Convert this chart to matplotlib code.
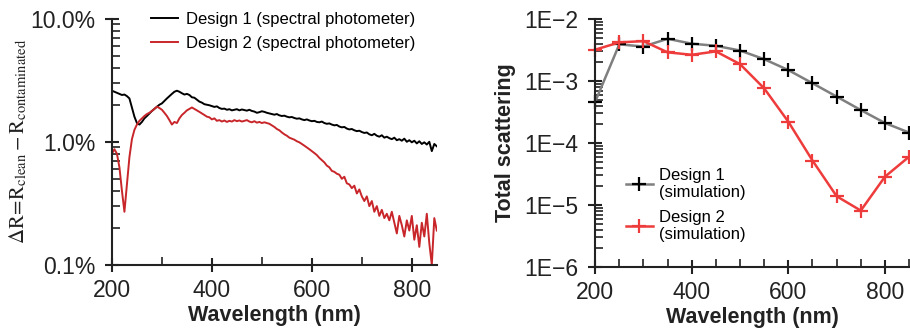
import matplotlib
matplotlib.use("Agg")
import matplotlib.pyplot as plt
from matplotlib.ticker import FixedLocator, MultipleLocator, LogLocator, NullFormatter
import numpy as np

plt.rcParams['font.family'] = ['Liberation Sans', 'DejaVu Sans']
plt.rcParams['mathtext.fontset'] = 'stix'

# measured spectra (percent), 5 nm step
wl = np.arange(200, 851, 5)
design1_meas = [
    2.60, 2.55, 2.50, 2.45, 2.40, 2.42, 2.35, 2.25, 1.90, 1.60,
    1.42, 1.38, 1.45, 1.55, 1.62, 1.70, 1.78, 1.85, 1.92, 2.00,
    2.05, 2.15, 2.25, 2.35, 2.45, 2.55, 2.60, 2.55, 2.48, 2.42,
    2.45, 2.40, 2.30, 2.28, 2.20, 2.12, 2.08, 2.02, 2.00, 1.98,
    1.95, 1.92, 1.94, 1.88, 1.85, 1.86, 1.82, 1.84, 1.80, 1.82,
    1.84, 1.80, 1.83, 1.81, 1.79, 1.82, 1.78, 1.76, 1.72, 1.74,
    1.77, 1.75, 1.72, 1.70, 1.68, 1.66, 1.68, 1.64, 1.62, 1.63,
    1.60, 1.58, 1.59, 1.56, 1.54, 1.55, 1.52, 1.50, 1.52, 1.49,
    1.47, 1.48, 1.45, 1.44, 1.46, 1.42, 1.40, 1.41, 1.38, 1.36,
    1.37, 1.33, 1.31, 1.32, 1.28, 1.26, 1.27, 1.24, 1.22, 1.23,
    1.20, 1.18, 1.19, 1.15, 1.13, 1.16, 1.12, 1.10, 1.13, 1.08,
    1.10, 1.07, 1.05, 1.08, 1.03, 1.05, 1.02, 1.06, 1.00, 1.03,
    0.99, 1.02, 0.97, 1.01, 0.96, 0.99, 0.95, 1.00, 0.84, 0.96,
    0.92]
design2_meas = [
    0.80, 0.87, 0.80, 0.62, 0.40, 0.27, 0.45, 0.75, 1.05, 1.25,
    1.38, 1.48, 1.55, 1.62, 1.68, 1.72, 1.78, 1.85, 1.93, 1.88,
    1.82, 1.72, 1.62, 1.50, 1.38, 1.45, 1.42, 1.55, 1.65, 1.72,
    1.80, 1.85, 1.90, 1.85, 1.80, 1.75, 1.70, 1.65, 1.60, 1.58,
    1.52, 1.55, 1.48, 1.50, 1.46, 1.49, 1.45, 1.48, 1.46, 1.50,
    1.47, 1.49, 1.46, 1.48, 1.50, 1.46, 1.44, 1.47, 1.43, 1.45,
    1.42, 1.44, 1.42, 1.40, 1.36, 1.32, 1.27, 1.24, 1.19, 1.15,
    1.12, 1.08, 1.06, 1.04, 1.01, 0.99, 0.96, 0.93, 0.90, 0.87,
    0.84, 0.81, 0.78, 0.74, 0.71, 0.68, 0.64, 0.62, 0.58, 0.57,
    0.55, 0.54, 0.50, 0.52, 0.46, 0.45, 0.42, 0.44, 0.38, 0.41,
    0.36, 0.33, 0.36, 0.30, 0.33, 0.27, 0.30, 0.25, 0.28, 0.24,
    0.26, 0.23, 0.27, 0.22, 0.18, 0.25, 0.21, 0.17, 0.23, 0.19,
    0.25, 0.16, 0.21, 0.14, 0.22, 0.17, 0.26, 0.15, 0.10, 0.24,
    0.19]

# simulated total scattering, 50 nm step
wl_sim = [200, 250, 300, 350, 400, 450, 500, 550, 600, 650, 700, 750, 800, 850]
design1_sim = [4.6e-4, 3.9e-3, 3.6e-3, 4.8e-3, 4.0e-3, 3.7e-3, 3.1e-3,
               2.25e-3, 1.5e-3, 9.2e-4, 5.6e-4, 3.4e-4, 2.1e-4, 1.47e-4]
design2_sim = [3.2e-3, 4.2e-3, 4.4e-3, 2.9e-3, 2.65e-3, 3.0e-3, 1.87e-3,
               7.6e-4, 2.2e-4, 5.2e-5, 1.38e-5, 8.1e-6, 2.85e-5, 6.0e-5]

fig = plt.figure(figsize=(9.1, 3.34), dpi=100)
ax1 = fig.add_axes([0.123, 0.207, 0.357, 0.737])
ax2 = fig.add_axes([0.654, 0.201, 0.345, 0.742])

tick_color = '#222222'


def style(ax):
    for s in ['top', 'right']:
        ax.spines[s].set_visible(False)
    for s in ['left', 'bottom']:
        ax.spines[s].set_linewidth(1.5)
        ax.spines[s].set_color(tick_color)
    ax.tick_params(which='major', direction='inout', length=10, width=1.5,
                   labelsize=16.5, colors=tick_color, pad=5)
    ax.tick_params(which='minor', direction='in', length=6, width=1.2,
                   colors=tick_color)
    ax.tick_params(axis='y', which='major', pad=7)
    ax.set_xlim(200, 850)
    ax.xaxis.set_major_locator(FixedLocator([200, 400, 600, 800]))
    ax.set_xlabel('Wavelength (nm)', fontsize=15.5, fontweight='bold',
                  color=tick_color, labelpad=2)


# left: measured
ax1.plot(wl, design1_meas, color='black', lw=1.4,
         label='Design 1 (spectral photometer)')
ax1.plot(wl, design2_meas, color='#c8262a', lw=1.4,
         label='Design 2 (spectral photometer)')
ax1.set_yscale('log')
ax1.set_ylim(0.1, 10)
style(ax1)
ax1.xaxis.set_minor_locator(MultipleLocator(100))
ax1.yaxis.set_major_locator(FixedLocator([0.1, 1, 10]))
ax1.yaxis.set_major_formatter(plt.FuncFormatter(lambda v, p: '%.1f%%' % v))
ax1.yaxis.set_minor_locator(LogLocator(base=10, subs=np.arange(2, 10)))
ax1.yaxis.set_minor_formatter(NullFormatter())
ax1.set_ylabel(r'$\Delta\mathrm{R}\!=\!\mathrm{R}_{\mathrm{clean}}-\mathrm{R}_{\mathrm{contaminated}}$',
               fontsize=15, color=tick_color, labelpad=1)
ax1.legend(loc='upper right', bbox_to_anchor=(0.98, 1.09), frameon=False,
           fontsize=12, handlelength=1.6, handletextpad=0.5, labelspacing=0.55)

# right: simulation
ax2.plot(wl_sim, design1_sim, color='#7f7f7f', lw=1.8, marker='+', ms=10,
         mew=1.6, mec='black', label='Design 1\n(simulation)')
ax2.plot(wl_sim, design2_sim, color='#ee3b3b', lw=1.8, marker='+', ms=10,
         mew=1.6, mec='#ee3b3b', label='Design 2\n(simulation)')
ax2.set_yscale('log')
ax2.set_ylim(1e-6, 1e-2)
style(ax2)
ax2.xaxis.set_minor_locator(MultipleLocator(50))
ax2.yaxis.set_major_locator(FixedLocator([1e-6, 1e-5, 1e-4, 1e-3, 1e-2]))
ax2.yaxis.set_major_formatter(plt.FuncFormatter(
    lambda v, p: '1E\u2212%d' % round(-np.log10(v))))
ax2.yaxis.set_minor_locator(LogLocator(base=10, subs=np.arange(2, 10)))
ax2.yaxis.set_minor_formatter(NullFormatter())
ax2.set_ylabel('Total scattering', fontsize=15.5, fontweight='bold',
               color=tick_color, labelpad=6)
for c in ax2.get_children():
    if hasattr(c, 'set_clip_on'):
        c.set_clip_on(False)
ax2.legend(loc='center left', bbox_to_anchor=(0.05, 0.25), frameon=False,
           fontsize=12, handlelength=1.6, handletextpad=0.4, labelspacing=0.6)

fig.savefig('out.png', dpi=100)
